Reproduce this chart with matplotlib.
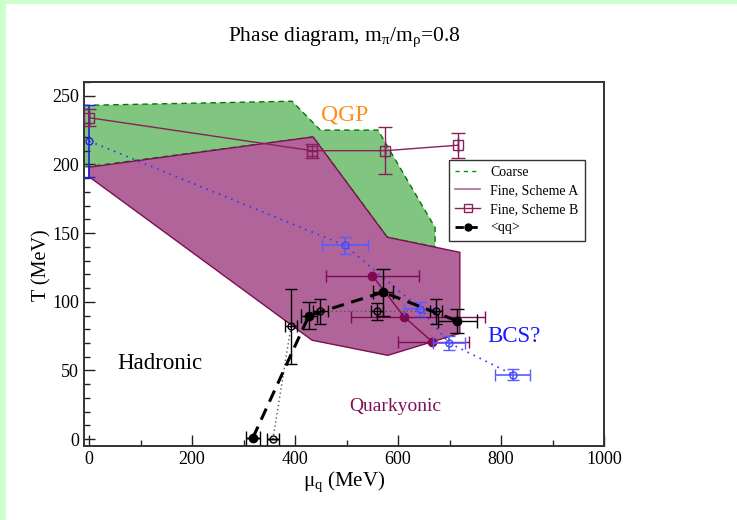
import matplotlib
matplotlib.use("Agg")
import matplotlib.pyplot as plt
from matplotlib.patches import Polygon, Rectangle
from matplotlib.lines import Line2D

plt.rcParams["font.family"] = ["Liberation Serif", "DejaVu Serif"]
plt.rcParams["mathtext.fontset"] = "custom"
plt.rcParams["mathtext.rm"] = "Liberation Serif"
plt.rcParams["mathtext.it"] = "Liberation Serif:italic"

# Phase regions (mu_q in MeV, T in MeV)
coarse_mu = [-10, 394, 449, 561, 672, 672, 579, 435, -10]
coarse_T = [243, 246, 225, 225, 154, 140, 147, 220, 198]

fineA_mu = [0, 435, 579, 720, 720, 580, 433, 0]
fineA_T = [198, 220, 147, 136, 77, 61, 72, 191]

# Fine, Scheme B transition points
schemeB_mu = [0, 433, 575, 717]
schemeB_T = [234, 210, 210, 214]
schemeB_muerr = [0, 10, 0, 0]
schemeB_Terr = [6, 5, 17, 9]

# Blue series
blue_mu = [0, 497, 643, 699, 823]
blue_T = [217, 141, 95, 70, 47]
blue_muerr = [0, 44, 31, 31, 34]
blue_Terr = [26, 6, 5, 5, 4]

# Open black circles
open_mu = [357, 392, 449, 559, 674]
open_T = [0, 82, 93, 93, 93]
open_muerr = [12, 12, 15, 12, 12]
open_Terr = [0, 27, 9, 6, 9]

# <qq> points
qq_mu = [318, 427, 571, 715]
qq_T = [1, 90, 107, 86]
qq_muerr = [13, 15, 20, 38]
qq_Terr = [0, 9.5, 17, 9]

# Filled magenta points
mag_mu = [550, 612, 666]
mag_T = [119, 89, 71]
mag_muerr_lo = [90, 103, 66]
mag_muerr_hi = [90, 157, 72]

x_ticks = [0, 200, 400, 600, 800, 1000]
y_ticks = [0, 50, 100, 150, 200, 250]

fig = plt.figure(figsize=(7.37, 5.2), dpi=100)
fig.patch.set_facecolor("#ccffcc")
fig.patches.append(Rectangle((6 / 737, 0), 1, 1 - 4 / 520, transform=fig.transFigure,
                             facecolor="white", edgecolor="none", zorder=-10))

ax = fig.add_axes([84 / 737, 1 - 446 / 520, 520 / 737, 364 / 520])
ax.set_xlim(-10, 1000)
ax.set_ylim(-5, 260)

green = "#80c680"
green_edge = "#007a00"
pink = "#b0649a"
pink_edge = "#7a1050"
schemeA_col = "#b0689a"
schemeB_col = "#8a1f5e"
mag_col = "#800a50"

ax.add_patch(Polygon(list(zip(coarse_mu, coarse_T)), closed=True, facecolor=green,
                     edgecolor=green_edge, linestyle=(0, (4, 3)), linewidth=1.0, zorder=1))
ax.add_patch(Polygon(list(zip(fineA_mu, fineA_T)), closed=True, facecolor=pink,
                     edgecolor=pink_edge, linewidth=1.0, zorder=2))

# Magenta points
ax.plot(mag_mu, mag_T, color=mag_col, linewidth=1.0, zorder=3)
ax.errorbar(mag_mu, mag_T, xerr=[mag_muerr_lo, mag_muerr_hi], fmt="o", color=mag_col,
            markersize=6, capsize=4, elinewidth=1.0, zorder=4)

# Blue series
ax.plot(blue_mu, blue_T, color="#3333ff", linestyle=(0, (1, 3)), linewidth=1.2, zorder=3)
ax.errorbar(blue_mu[:1], blue_T[:1], yerr=blue_Terr[:1], fmt="o", mfc="none", mec="#2222dd",
            ecolor="#2222dd", markersize=5, capsize=4, elinewidth=1.2, zorder=5)
ax.errorbar(blue_mu[1:], blue_T[1:], xerr=blue_muerr[1:], yerr=blue_Terr[1:], fmt="o",
            mfc="none", mec="#4444ff", ecolor="#5a5aff", markersize=5, capsize=4,
            elinewidth=1.2, zorder=5)

# Open black circles
ax.plot(open_mu, open_T, color="#555555", linestyle=(0, (1, 2)), linewidth=1.0, zorder=3)
ax.errorbar(open_mu, open_T, xerr=open_muerr, yerr=open_Terr, fmt="o", mfc="none",
            mec="black", ecolor="black", markersize=5, capsize=4, elinewidth=1.0, zorder=5)

# Fine, Scheme B
ax.errorbar(schemeB_mu, schemeB_T, xerr=schemeB_muerr, yerr=schemeB_Terr, fmt="s-",
            mfc="none", mec=schemeB_col, color=schemeB_col, markersize=7, capsize=5,
            elinewidth=1.0, linewidth=1.0, zorder=6)

# <qq>
ax.errorbar(qq_mu, qq_T, xerr=qq_muerr, yerr=qq_Terr, fmt="o", color="black",
            markersize=6, capsize=5, elinewidth=1.0, zorder=7)
ax.plot(qq_mu, qq_T, color="black", linestyle=(0, (4, 2.5)), linewidth=2.2, zorder=7)

# Region names
ax.text(497, 236, "QGP", color="#ff8c1a", fontsize=17, ha="center", va="center", zorder=8)
ax.text(138, 55, "Hadronic", color="black", fontsize=16.5, ha="center", va="center", zorder=8)
ax.text(594, 24, "Quarkyonic", color="#80105a", fontsize=14, ha="center", va="center", zorder=8)
ax.text(825, 75, "BCS?", color="#1a1aff", fontsize=16.5, ha="center", va="center", zorder=8)

# Axes styling
ax.set_xticks(x_ticks)
ax.set_yticks(y_ticks)
ax.set_xticks(range(0, 1001, 100), minor=True)
ax.set_yticks(range(0, 261, 10), minor=True)
ax.tick_params(which="both", direction="in", top=False, right=False, labelsize=13,
               width=1.0, color="#222222")
ax.tick_params(which="major", length=8)
ax.tick_params(which="minor", length=4)
for s in ax.spines.values():
    s.set_linewidth(1.4)
    s.set_color("#333333")

# Legend
handles = [
    Line2D([], [], color="#009900", linestyle=(0, (3, 3)), linewidth=1.0),
    Line2D([], [], color=schemeA_col, linewidth=1.2),
    Line2D([], [], color=schemeB_col, marker="s", mfc="none", mec=schemeB_col,
           markersize=6, linewidth=1.0),
    Line2D([], [], color="black", marker="o", markersize=5, linestyle=(0, (3, 2)),
           linewidth=2.0),
]
labels = ["Coarse", "Fine, Scheme A", "Fine, Scheme B", "<qq>"]
leg = ax.legend(handles, labels, loc="upper left", bbox_to_anchor=(0.702, 0.787),
                borderaxespad=0, fontsize=10, frameon=True, fancybox=False, framealpha=1,
                edgecolor="#333333", handlelength=1.8, borderpad=0.45,
                labelspacing=0.4, handletextpad=0.7)
leg.get_frame().set_linewidth(1.0)
leg.set_zorder(10)

fig.text(344 / 737, 1 - 37 / 520, r"Phase diagram, m$_{\mathrm{π}}$/m$_{\mathrm{ρ}}$=0.8",
         ha="center", va="center", fontsize=15.5)
fig.text(42 / 737, 1 - 265 / 520, "T (MeV)", rotation=90, ha="center", va="center",
         fontsize=14.5)
fig.text(344 / 737, 1 - 482 / 520, r"μ$_{\mathrm{q}}$ (MeV)", ha="center", va="center",
         fontsize=15)

fig.savefig("out.png", dpi=100, facecolor=fig.get_facecolor())
